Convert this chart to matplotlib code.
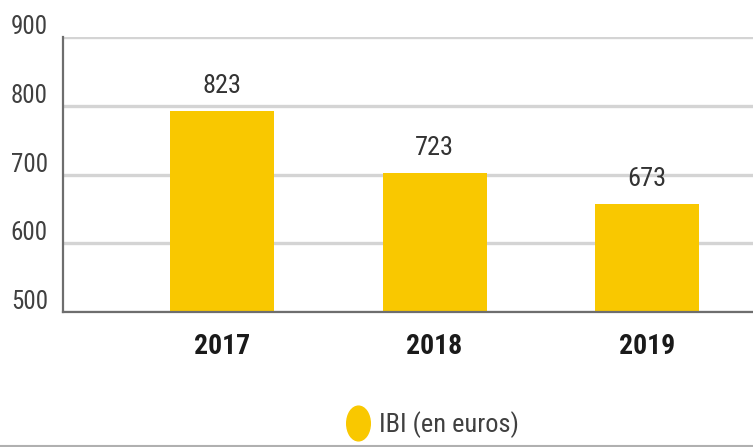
import matplotlib
matplotlib.use("Agg")
import matplotlib.pyplot as plt
import matplotlib.transforms as mtransforms
from matplotlib.lines import Line2D
from matplotlib.path import Path

plt.rcParams['font.family'] = ['DejaVu Sans Condensed', 'Liberation Sans Narrow',
                               'Roboto Condensed', 'Roboto', 'DejaVu Sans']
plt.rcParams['font.stretch'] = 'condensed'

# data
years = ['2017', '2018', '2019']
bar_heights = [792, 702, 657]          # drawn height of each bar
value_labels = ['823', '723', '673']   # text printed above each bar
y_ticks = [500, 600, 700, 800, 900]
legend_label = 'IBI (en euros)'

BAR_COLOR = '#F9C800'


def plot_chart():
    fig = plt.figure(figsize=(7.53, 4.47), dpi=100)
    W, H = 753, 447
    ax = fig.add_axes([63 / W, (H - 312) / H, (W - 63) / W, (312 - 37) / H])

    x = list(range(len(years)))
    ax.bar(x, [h - 500 for h in bar_heights], bottom=500, width=0.49,
           color=BAR_COLOR, zorder=2)

    ax.set_xlim(-0.75, 2.5)
    ax.set_ylim(500, 900)
    ax.set_yticks(y_ticks)
    ax.set_yticklabels([])
    ax.tick_params(axis='y', length=0)
    ax.grid(axis='y', color='#d4d4d4', linewidth=2.4, zorder=0)

    # y labels sit a little above their grid lines
    shift = mtransforms.ScaledTranslation(-0.15, 0.10, fig.dpi_scale_trans)
    for t in y_ticks:
        ax.text(0, t, str(t), transform=ax.get_yaxis_transform() + shift,
                ha='right', va='center', fontsize=18, color='#404040')

    ax.set_xticks(x)
    ax.set_xticklabels(years, fontsize=20, fontweight='bold', color='#1a1a1a')
    ax.tick_params(axis='x', length=0, pad=15)

    for xi, h, lab in zip(x, bar_heights, value_labels):
        ax.annotate(lab, (xi, h), xytext=(0, 18), textcoords='offset points',
                    ha='center', va='center', fontsize=19, color='#333333')

    for side in ['top', 'right']:
        ax.spines[side].set_visible(False)
    for side in ['left', 'bottom']:
        ax.spines[side].set_color('#6e6e6e')
        ax.spines[side].set_linewidth(1.6)

    # tall ellipse marker for the legend
    circ = Path.unit_circle()
    ell = Path(circ.vertices * [0.68, 1.0], circ.codes)
    handle = Line2D([], [], linestyle='none', marker=ell, markersize=25,
                    markerfacecolor=BAR_COLOR, markeredgecolor=BAR_COLOR)
    fig.legend([handle], [legend_label], loc='center',
               bbox_to_anchor=(432 / W, 1 - 425 / H), frameon=False,
               fontsize=19, handlelength=1.0, handletextpad=0.3,
               labelcolor='#404040')

    fig.add_artist(Line2D([0, 1], [1.5 / H, 1.5 / H], color='#b0b0b0',
                          linewidth=1.5, transform=fig.transFigure))

    fig.savefig('out.png', dpi=100)


def main():
    plot_chart()


if __name__ == "__main__":
    main()
